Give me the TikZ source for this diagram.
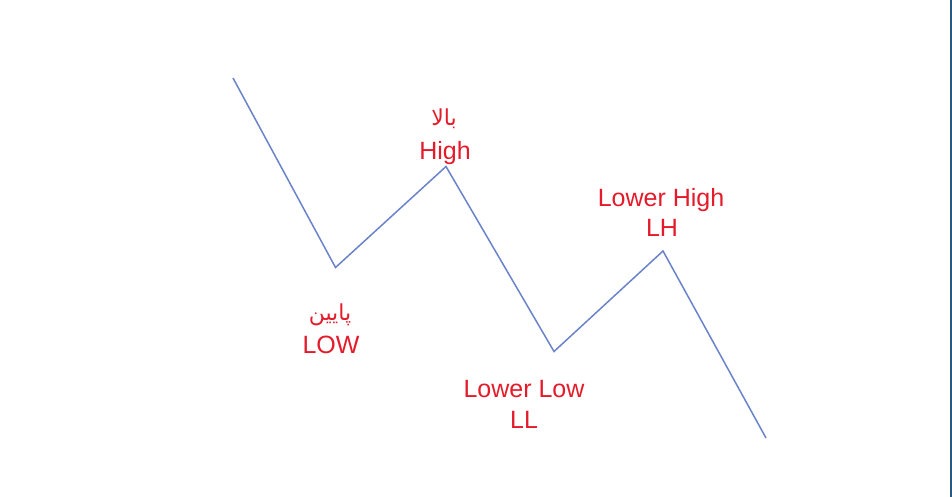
\documentclass[tikz,border=0pt]{standalone}
\usepackage{fontspec}
\setmainfont{Liberation Sans}
\newfontfamily\arabicfont[Script=Arabic]{DejaVu Sans}
\TeXXeTstate=1
\definecolor{linecol}{HTML}{6B84C9}
\definecolor{txtred}{HTML}{E41B2A}
\definecolor{barcol}{HTML}{2B5A7E}
\begin{document}
\begin{tikzpicture}[x=1pt,y=-1pt,
  lbl/.style={text=txtred,font=\fontsize{25}{28}\selectfont,anchor=base,inner sep=0pt},
  albl/.style={text=txtred,font=\arabicfont\fontsize{22}{25}\selectfont,anchor=base,inner sep=0pt},
  zig/.style={draw=linecol,line width=1.5pt,line join=miter}]
\useasboundingbox (0,0) rectangle (952,497);
\fill[white] (0,0) rectangle (952,497);
\fill[barcol] (949.5,0) rectangle (952,497);
\coordinate (s) at (233,78);
\coordinate (low) at (335.5,267.5);
\coordinate (high) at (446,166.5);
\coordinate (ll) at (554,351.5);
\coordinate (lh) at (663,251);
\coordinate (e) at (766,438);
\draw[zig] (s) -- (low) -- (high) -- (ll) -- (lh) -- (e);
\node[albl] (ahigh) at (444,126) {\beginR بالا\endR};
\node[lbl] (thigh) at (445,160) {High};
\node[albl] (alow) at (330,320) {\beginR پایین\endR};
\node[lbl] (tlow) at (331,353) {LOW};
\node[lbl] (tll1) at (524,397) {Lower Low};
\node[lbl] (tll2) at (524,428) {LL};
\node[lbl] (tlh1) at (661,206) {Lower High};
\node[lbl] (tlh2) at (662,236) {LH};
\end{tikzpicture}
\end{document}
